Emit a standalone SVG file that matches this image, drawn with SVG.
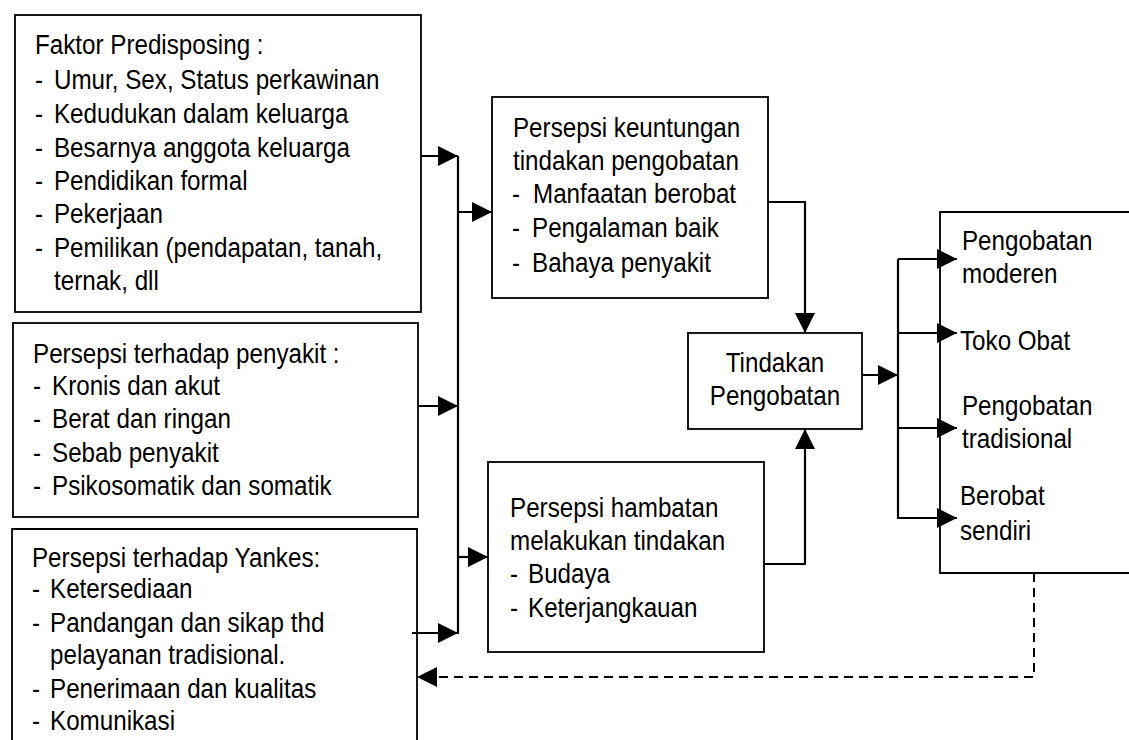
<svg xmlns="http://www.w3.org/2000/svg" width="1129" height="740" viewBox="0 0 1129 740">
<style>
.box{fill:#fff;stroke:#000;stroke-width:1.8}
.t{font-family:"Liberation Sans",Arial,sans-serif;font-size:27.5px;fill:#000}
.c{fill:none;stroke:#000;stroke-width:2.2}
.d{fill:none;stroke:#000;stroke-width:2;stroke-dasharray:9,6}
</style>
<defs>
<marker id="ah" viewBox="0 0 20 20" refX="20" refY="10" markerWidth="20" markerHeight="20" markerUnits="userSpaceOnUse" orient="auto">
<path d="M0,0 L20,10 L0,20 z" fill="#000"/>
</marker>
</defs>
<rect width="1129" height="740" fill="#fff"/>

<g id="faktor-predisposing">
<rect class="box" x="15" y="15" width="406" height="297"/>
<g transform="scale(0.88,1)">
<text class="t" x="39.77" y="54">Faktor Predisposing :</text>
<text class="t"><tspan x="39.77" y="89">- </tspan><tspan x="61.36" y="89">Umur, Sex, Status perkawinan</tspan></text>
<text class="t"><tspan x="39.77" y="123">- </tspan><tspan x="61.36" y="123">Kedudukan dalam keluarga</tspan></text>
<text class="t"><tspan x="39.77" y="157">- </tspan><tspan x="61.36" y="157">Besarnya anggota keluarga</tspan></text>
<text class="t"><tspan x="39.77" y="190">- </tspan><tspan x="61.36" y="190">Pendidikan formal</tspan></text>
<text class="t"><tspan x="39.77" y="223">- </tspan><tspan x="61.36" y="223">Pekerjaan</tspan></text>
<text class="t"><tspan x="39.77" y="257">- </tspan><tspan x="61.36" y="257">Pemilikan (pendapatan, tanah,</tspan></text>
<text class="t" x="61.36" y="290">ternak, dll</text>
</g>
</g>

<g id="persepsi-penyakit">
<rect class="box" x="13" y="323" width="405" height="194"/>
<g transform="scale(0.88,1)">
<text class="t" x="37.5" y="363">Persepsi terhadap penyakit :</text>
<text class="t"><tspan x="37.5" y="395">- </tspan><tspan x="59.09" y="395">Kronis dan akut</tspan></text>
<text class="t"><tspan x="37.5" y="428">- </tspan><tspan x="59.09" y="428">Berat dan ringan</tspan></text>
<text class="t"><tspan x="37.5" y="462">- </tspan><tspan x="59.09" y="462">Sebab penyakit</tspan></text>
<text class="t"><tspan x="37.5" y="495">- </tspan><tspan x="59.09" y="495">Psikosomatik dan somatik</tspan></text>
</g>
</g>

<g id="persepsi-yankes">
<path class="box" d="M12,745 V529 H417 V745"/>
<g transform="scale(0.88,1)">
<text class="t" x="36.36" y="567">Persepsi terhadap Yankes:</text>
<text class="t"><tspan x="36.36" y="598">- </tspan><tspan x="56.82" y="598">Ketersediaan</tspan></text>
<text class="t"><tspan x="36.36" y="632">- </tspan><tspan x="56.82" y="632">Pandangan dan sikap thd</tspan></text>
<text class="t" x="56.82" y="664">pelayanan tradisional.</text>
<text class="t"><tspan x="36.36" y="698">- </tspan><tspan x="56.82" y="698">Penerimaan dan kualitas</tspan></text>
<text class="t"><tspan x="36.36" y="730">- </tspan><tspan x="56.82" y="730">Komunikasi</tspan></text>
</g>
</g>

<g id="persepsi-keuntungan">
<rect class="box" x="492" y="97" width="276" height="201"/>
<g transform="scale(0.88,1)">
<text class="t" x="582.95" y="137">Persepsi keuntungan</text>
<text class="t" x="582.95" y="170">tindakan pengobatan</text>
<text class="t"><tspan x="581.82" y="203">- </tspan><tspan x="605.68" y="203">Manfaatan berobat</tspan></text>
<text class="t"><tspan x="581.82" y="237">- </tspan><tspan x="604.55" y="237">Pengalaman baik</tspan></text>
<text class="t"><tspan x="581.82" y="272">- </tspan><tspan x="604.55" y="272">Bahaya penyakit</tspan></text>
</g>
</g>

<g id="persepsi-hambatan">
<rect class="box" x="488" y="462" width="276" height="190"/>
<g transform="scale(0.88,1)">
<text class="t" x="579.55" y="517">Persepsi hambatan</text>
<text class="t" x="579.55" y="550">melakukan tindakan</text>
<text class="t"><tspan x="579.55" y="583">- </tspan><tspan x="600" y="583">Budaya</tspan></text>
<text class="t"><tspan x="579.55" y="617">- </tspan><tspan x="600" y="617">Keterjangkauan</tspan></text>
</g>
</g>

<g id="tindakan-pengobatan">
<rect class="box" x="688" y="333" width="174" height="96"/>
<g transform="scale(0.88,1)">
<text class="t" x="880.68" y="372" text-anchor="middle">Tindakan</text>
<text class="t" x="880.68" y="405" text-anchor="middle">Pengobatan</text>
</g>
</g>

<g id="hasil-pengobatan">
<path class="box" d="M1140,212 H940 V573 H1140"/>
<g transform="scale(0.88,1)">
<text class="t" x="1093.18" y="250">Pengobatan</text>
<text class="t" x="1093.18" y="283">moderen</text>
<text class="t" x="1090.91" y="350">Toko Obat</text>
<text class="t" x="1093.18" y="415">Pengobatan</text>
<text class="t" x="1093.18" y="448">tradisional</text>
<text class="t" x="1090.91" y="505">Berobat</text>
<text class="t" x="1090.91" y="540">sendiri</text>
</g>
</g>

<g id="connectors">
<line class="c" x1="458" y1="156" x2="458" y2="634"/>
<line class="c" x1="421" y1="156" x2="458" y2="156" marker-end="url(#ah)"/>
<line class="c" x1="418" y1="406" x2="458" y2="406" marker-end="url(#ah)"/>
<line class="c" x1="412" y1="633" x2="458" y2="633" marker-end="url(#ah)"/>
<line class="c" x1="458" y1="212" x2="492" y2="212" marker-end="url(#ah)"/>
<line class="c" x1="458" y1="557" x2="488" y2="557" marker-end="url(#ah)"/>
<path class="c" d="M768,202 H805 V333" marker-end="url(#ah)"/>
<path class="c" d="M764,564 H805 V429" marker-end="url(#ah)"/>
<line class="c" x1="862" y1="375" x2="898" y2="375" marker-end="url(#ah)"/>
<line class="c" x1="898" y1="259" x2="898" y2="519"/>
<line class="c" x1="898" y1="259" x2="957" y2="259" marker-end="url(#ah)"/>
<line class="c" x1="898" y1="333" x2="957" y2="333" marker-end="url(#ah)"/>
<line class="c" x1="898" y1="428" x2="957" y2="428" marker-end="url(#ah)"/>
<line class="c" x1="898" y1="518" x2="957" y2="518" marker-end="url(#ah)"/>
<path class="d" d="M1034,573 V677 H417" marker-end="url(#ah)"/>
</g>
</svg>
